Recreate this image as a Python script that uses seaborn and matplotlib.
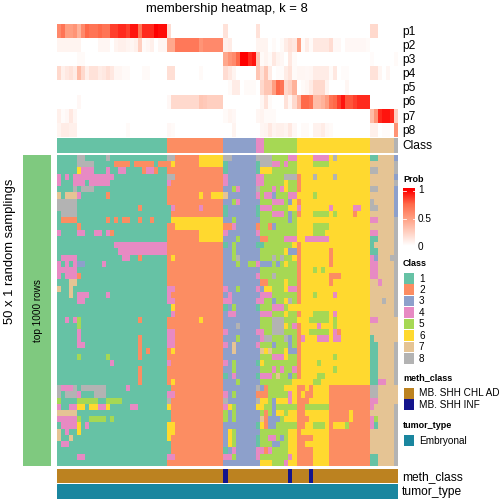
import seaborn as sns
import matplotlib
matplotlib.use("Agg")
import matplotlib.pyplot as plt
from matplotlib.colors import ListedColormap, LinearSegmentedColormap
from matplotlib.patches import Rectangle
import numpy as np

plt.rcParams["font.family"] = ["Liberation Sans", "DejaVu Sans"]

class_colors = ["#66C2A5", "#FC8D62", "#8DA0CB", "#E78AC3", "#A6D854", "#FFD92F", "#E5C494", "#B3B3B3"]
meth_colors = ["#BC8220", "#14148C"]
tumor_color = "#1A869F"
side_color = "#7FC97F"
prob_stops = ["#FFFFFF", "#FFCFC0", "#FF9E81", "#FF6A4A", "#FF0000"]

prob_names = ["p1", "p2", "p3", "p4", "p5", "p6", "p7", "p8"]

# membership probabilities, split by class block of the columns
p1 = [.6,.7,.5,.5,.55,.4,.6,.75,.7,.7,.75,.7,.7,.85,.85,.9,.9,.85,.95,.95,.7,.9,.9,.9,1,.97,.97,
      .18,0,0,0,0,0,0,0,0,0,0,0,0,0,
      .15,0,0,0,0,0,0,0, .15,0, 0,0,0,0,0,0,0,0,
      0,0,0,0,0,0,0,0,0,0,0,0,0,0,0,0,0,0, .2,.2,0,0,0,0, 0]
p2 = [.06,.06,.06,.06,.06,.06,0,0,0,0,.05,.05,.05,0,.06,.08,.08,.06,.05,.08,.25,.03,.05,.08,0,.05,.05,
      .45,.45,.68,.68,.68,.68,.68,.68,.55,.6,.6,.6,.6,.6,
      .08,.1,0,0,0,0,0,0, .06,.06, .06,0,.03,0,.03,.1,.15,.12,
      .5,.03,.1,.03,.12,.12,.12,.12,.18,.04,.04,0,.04,.04,.04,.04,.04,.03, 0,0,0,0,0,0, 0]
p3 = [0,0,0,0,0,.03,.03,0,0,0,0,0,0,0,0,0,0,0,0,0,0,0,0,0,0,0,0,
      0,0,0,0,0,0,0,0,0,0,0,0,0,0,
      .45,.55,.6,.75,1,1,.9,.95, .3,.03, .06,.03,.12,.06,.04,0,.12,.03,
      0,0,0,0,0,0,0,0,0,0,0,0,0,0,0,0,0,0, .02,0,0,0,0,0, .03]
p4 = [.2,.08,.12,.15,.1,.35,.2,.08,.15,.15,.1,.12,.17,.12,.05,.05,.03,.03,0,0,0,.03,.03,0,0,0,0,
      .17,.17,0,0,0,0,0,0,.03,0,0,0,0,0,
      .18,.12,.06,0,0,0,0,0, .3,.15, .3,.1,0,.02,.02,.1,.15,.03,
      .05,.05,.04,.05,.1,.1,.1,.1,.03,.12,0,.02,.02,0,0,0,0,0, .15,.15,.05,0,.05,0, 0]
p5 = [0,0,0,0,0,0,0,0,0,0,0,0,0,0,0,0,0,0,0,0,0,0,0,0,0,0,0,
      0,0,0,0,0,0,0,0,0,0,0,0,0,0,
      0,.03,.1,.1,0,.03,.03,.03, 0,.2, .3,.3,.5,.75,.7,.2,.25,.4,
      0,.03,.05,.1,.2,.2,.2,.06,0,0,0,0,.05,0,0,0,0,0, 0,0,0,0,0,0, 0]
p6 = [0,0,0,0,0,.04,0,0,0,0,0,0,0,0,0,0,0,0,0,0,0,0,0,0,0,0,0,
      .04,.2,.2,.2,.2,.2,.2,.2,.3,.28,.25,.25,.25,.25,
      0,0,0,0,0,0,0,0, 0,.05, .15,.03,0,0,0,.15,.05,.2,
      .38,.75,.75,.7,.35,.35,.4,.5,.7,.75,.85,.95,.8,.8,.85,.9,.9,.9, 0,0,0,0,0,0, 0]
p7 = [.08,.02,.04,.12,.05,0,0,0,0,0,0,0,0,0,0,0,0,0,0,0,0,0,0,0,0,0,0,
      0,0,0,0,0,0,0,0,0,0,0,0,0,0,
      .03,.06,.04,0,0,0,0,0, .05,.06, .03,.03,.03,0,0,0,0,0,
      0,0,0,0,0,0,0,0,0,0,0,0,0,0,0,0,0,0, .35,.55,.9,.95,.95,.9, .25]
p8 = [.06,.1,.1,.08,.08,0,0,0,0,0,0,0,0,0,0,0,0,.03,0,0,0,0,0,0,0,0,0,
      .04,.03,0,0,0,0,0,0,0,0,0,0,0,0,
      0,0,.06,0,0,0,0,0, 0,.05, .06,.12,.06,.08,.08,.06,.12,.04,
      0,.03,.03,0,.07,.07,.1,.04,.03,0,0,0,0,0,0,0,0,0, .08,.08,0,.02,.02,0, .55]

# top class per column
class_row = "111111111111111111111111111 22222222222222 33333333 44 55555555 666666666666666666 777777 8"

# class per sampling (rows) and column
class_rows = [
    "111118811111811111111111111 88222222666666 88333333 88 88555544 666644446866666666 117777 3",
    "111118888111112222122222122 26222222666666 13333333 18 88445455 666655556666666666 777777 8",
    "111116444111411441111244211 22222222222222 13333333 16 66555555 666666666666666666 887777 8",
    "414144444444441111111111111 88222222222222 43333333 44 55555888 266686666866666666 777777 3",
    "411144414444411111111111111 42222222222222 43333333 44 55555655 266666666666666666 777777 8",
    "111181888111111111111111111 22222222222222 33543333 85 55454655 266666666666666666 887777 3",
    "717774111111211111111111111 22222222622666 73333333 45 44355544 666656666666666666 777777 3",
    "888881111111111111111111111 22222222222222 33543333 35 55444536 266666666666666666 877777 3",
    "888881111111111111112111111 14222222422222 13333333 14 44555566 466666664666664466 887777 3",
    "188881111111111111111111111 12222222222222 13333333 15 55444535 266655556566662666 777777 3",
    "122221111111212122112112111 16666666666666 33533333 35 55555535 666666666666666666 447777 8",
    "111112111111111111111111111 22666666666666 22433333 25 52355555 666655556666666666 777777 8",
    "411114411441421111111111111 22222222666666 43333333 45 55555555 666655566666666666 447777 8",
    "111111111111111111111111111 22222222666666 33353333 32 25555444 664444446666666666 117777 8",
    "111111111111114444444444444 22222222222222 13533333 11 55555556 266666666666666666 177777 8",
    "111111111111111444444444444 22222222222222 33533333 35 55555633 266666662666666666 117777 8",
    "144441111111111144112111111 26222222222222 33583333 35 55858556 266666662666666666 437778 8",
    "414143311114111111111111111 22222222222222 33353355 43 33535655 266666662666666666 447777 8",
    "444441111111111111111111111 22222222222222 33333333 35 55555555 266656566666666666 447777 8",
    "414442111111111111111111111 22222222222222 33333333 45 55855555 266666662226666666 447777 8",
    "111771111111111111111111111 22222222222222 33333333 32 25555655 266666662666666666 774777 8",
    "711711111111111111111111111 44222222222222 43353333 43 66555644 266666666666666666 777777 8",
    "111714441111411111111111111 42222222222222 34333333 34 44555555 266656666466666666 777777 8",
    "111114411111111111111111111 44222222222222 44333333 44 55355685 266666666666666666 777877 8",
    "111111111111111111111111111 16222222222222 13533333 15 55444566 666666666666666666 777777 8",
    "111111111111111111111111111 14222222222222 34433333 34 44555655 266655556466666666 777777 8",
    "114145111111111111112111111 22222222622222 33333333 35 55888555 666555556566666666 447777 7",
    "111115111111111111111111111 22222222222222 33383333 35 55888654 266664666566666666 777777 7",
    "111114111111111111111111111 44222222222222 43333333 44 55888555 266555556426666666 777777 7",
    "111114111111111111112111111 44222222222222 33353333 34 88555835 246664446446666666 177777 7",
    "111114411111111111112111111 44222222222222 43733333 45 55355535 266666666666666666 117777 8",
    "111111111111111111112121111 26222222222222 33733333 37 67555633 266666666666666666 117777 8",
    "111115111111511111112111111 22222222222222 33333333 35 55444655 266666666566666666 117777 8",
    "111111111111141111111111111 42222222222222 43533333 16 55555555 266665666666666666 117777 8",
    "111111111111111111112111111 22222222222222 33533333 35 55454554 266666666566666666 117777 8",
    "111111111111111111112111111 22222222222222 13433333 14 44575535 266665566666666666 117777 8",
    "111111111111111111112111111 26222222222222 33353333 35 55555556 666655666666666666 114477 8",
    "844481888888111114111111111 12222222222222 33333333 83 25555666 226266662222222222 887777 7",
    "818884111888111111111111111 44222222222222 43533333 22 25555546 262266662222222222 887777 7",
    "511115555511555511111111111 82222222222222 83333333 86 65366646 222666662222222222 447777 7",
    "411446616644611111441111111 62222222222222 46533333 66 55355555 225555552222222222 477777 8",
    "777771111111111111111111111 12222222222222 53533333 35 25366566 226666662222262222 777777 8",
    "444445115555151111111111111 12222222222222 53533333 37 23335666 222666662222262222 457777 8",
    "144446141111111111111111111 66222222222222 33333333 16 23355555 226655562666522222 417777 8",
    "714116111111111111111111111 66222222222222 36533333 35 55555566 266666662222222222 777777 8",
    "711711111111111111111111111 62222222222222 36533333 15 54453566 222266662222222222 777777 8",
    "144111111111111111111111111 12222222222222 36533333 15 55335566 226666662222222222 777777 8",
    "111111111111111111111111111 12222222222222 13433333 44 24555566 222266662222222222 777777 8",
    "111114411111111111111111111 44222222222222 44533333 45 55555546 222266662222222222 117777 8",
    "111111111111111111111111111 22222222222222 33333333 36 66555466 222266662222222222 117777 8",
]

# 0 = MB. SHH CHL AD, 1 = MB. SHH INF
meth_row = [0]*41 + [1] + [0]*15 + [1] + [0]*4 + [1] + [0]*21

prob_cmap = LinearSegmentedColormap.from_list("prob", prob_stops)
class_cmap = ListedColormap(class_colors)
meth_cmap = ListedColormap(meth_colors)


def digits(s):
    return [int(ch) for ch in s.replace(" ", "")]


def px_axes(x0, y0, x1, y1):
    return fig.add_axes([x0 / 504, 1 - y1 / 504, (x1 - x0) / 504, (y1 - y0) / 504])


fig = plt.figure(figsize=(7, 7), dpi=72)

L, R = 57, 398

# membership strips
ax = px_axes(L, 24, R, 137)
sns.heatmap(np.array([p1, p2, p3, p4, p5, p6, p7, p8]), ax=ax, cmap=prob_cmap, vmin=0, vmax=1,
            cbar=False, xticklabels=False, yticklabels=False)

# class strip
ax = px_axes(L, 138, R, 153)
sns.heatmap(np.array([digits(class_row)]), ax=ax, cmap=class_cmap, vmin=0.5, vmax=8.5,
            cbar=False, xticklabels=False, yticklabels=False)

# main matrix
ax = px_axes(L, 155, R, 466)
sns.heatmap(np.array([digits(r) for r in class_rows]), ax=ax, cmap=class_cmap, vmin=0.5, vmax=8.5,
            cbar=False, xticklabels=False, yticklabels=False)

# bottom annotations
ax = px_axes(L, 469, R, 483)
sns.heatmap(np.array([meth_row]), ax=ax, cmap=meth_cmap, vmin=0, vmax=1,
            cbar=False, xticklabels=False, yticklabels=False)

ax = px_axes(L, 484, R, 499)
ax.add_patch(Rectangle((0, 0), 1, 1, color=tumor_color, transform=ax.transAxes))
ax.axis("off")

# everything else in pixel coordinates
ov = fig.add_axes([0, 0, 1, 1], zorder=5)
ov.set_xlim(0, 504)
ov.set_ylim(504, 0)
ov.axis("off")
ov.patch.set_alpha(0)

ov.add_patch(Rectangle((23, 155), 28, 311, color=side_color, lw=0))
ov.text(38, 310.5, "top 1000 rows", rotation=90, ha="center", va="center", fontsize=10)
ov.text(10, 251, "50 x 1 random samplings", rotation=90, ha="center", va="center", fontsize=13)
ov.text(227, 9, "membership heatmap, k = 8", ha="center", va="center", fontsize=13)

for i, name in enumerate(prob_names):
    ov.text(402, 32 + i * 14.1, name, ha="left", va="center", fontsize=12)
ov.text(402, 146, "Class", ha="left", va="center", fontsize=12)
ov.text(402, 477.5, "meth_class", ha="left", va="center", fontsize=12)
ov.text(402, 492.5, "tumor_type", ha="left", va="center", fontsize=12)

# Prob legend
ov.text(403, 179.5, "Prob", ha="left", va="center", fontsize=9, fontweight="bold")
grad = np.linspace(1, 0, 100).reshape(-1, 1)
ov.imshow(grad, cmap=prob_cmap, vmin=0, vmax=1, extent=(403, 415, 246, 190), aspect="auto", zorder=2)
ov.add_patch(Rectangle((403, 188), 12, 2, color="#FF0000", lw=0))
ov.set_xlim(0, 504)
ov.set_ylim(504, 0)
for y in [190.5, 218.5]:
    ov.plot([403, 405.5], [y, y], color="white", lw=0.8, zorder=3)
    ov.plot([412.5, 415], [y, y], color="white", lw=0.8, zorder=3)
for y, lab in [(190, "1"), (218.5, "0.5"), (246.5, "0")]:
    ov.text(418, y, lab, ha="left", va="center", fontsize=10)

# Class legend
ov.text(403, 264, "Class", ha="left", va="center", fontsize=9, fontweight="bold")
for i, c in enumerate(class_colors):
    ov.add_patch(Rectangle((403.5, 273 + i * 11.43), 10.5, 10.5, color=c, lw=0))
    ov.text(419, 278.5 + i * 11.43, str(i + 1), ha="left", va="center", fontsize=10)

# meth_class legend
ov.text(403, 378, "meth_class", ha="left", va="center", fontsize=9, fontweight="bold")
for i, lab in enumerate(["MB. SHH CHL AD", "MB. SHH INF"]):
    ov.add_patch(Rectangle((403.5, 388 + i * 11.43), 10.5, 10.5, color=meth_colors[i], lw=0))
    ov.text(419, 393.5 + i * 11.43, lab, ha="left", va="center", fontsize=10)

# tumor_type legend
ov.text(403, 426, "tumor_type", ha="left", va="center", fontsize=9, fontweight="bold")
ov.add_patch(Rectangle((403.5, 435), 10.5, 10.5, color=tumor_color, lw=0))
ov.text(419, 440.5, "Embryonal", ha="left", va="center", fontsize=10)

fig.savefig("out.png", dpi=72)
